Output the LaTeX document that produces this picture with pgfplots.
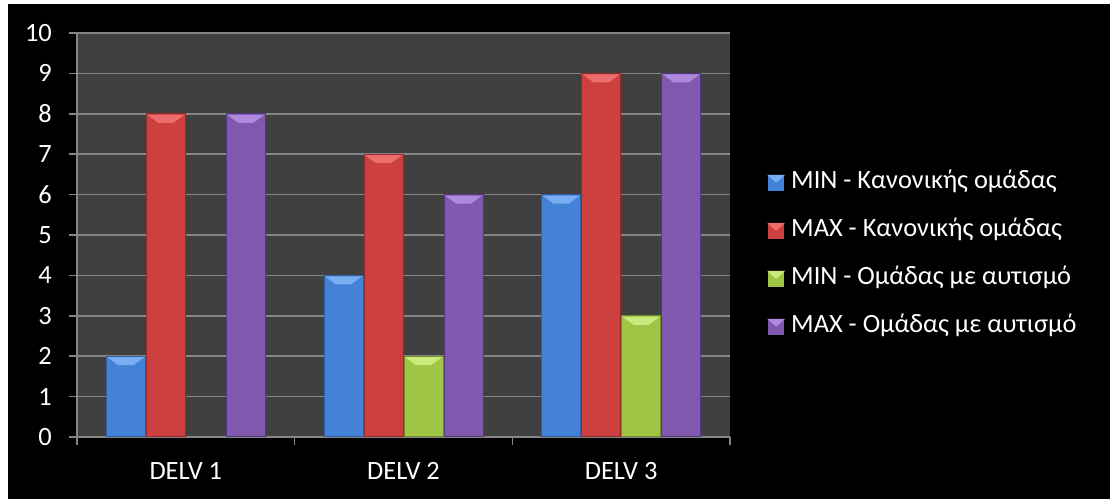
\documentclass[border=0pt]{standalone}
\usepackage{fontspec}
\setmainfont{Carlito}
\usepackage{pgfplots}
\pgfplotsset{compat=1.18}
\usetikzlibrary{shapes.geometric}

\definecolor{plotbg}{HTML}{404040}
\definecolor{gridgray}{HTML}{858585}
\definecolor{blueM}{HTML}{4382D6}\definecolor{blueD}{HTML}{2C5FA8}\definecolor{blueT}{HTML}{7AAEF2}
\definecolor{redM}{HTML}{CC4040}\definecolor{redD}{HTML}{962828}\definecolor{redT}{HTML}{EC6E6C}
\definecolor{greenM}{HTML}{9EC644}\definecolor{greenD}{HTML}{6F8F26}\definecolor{greenT}{HTML}{CBEA7E}
\definecolor{purpM}{HTML}{8058AE}\definecolor{purpD}{HTML}{553680}\definecolor{purpT}{HTML}{AE8ADE}

\newcommand\chartfont{\fontsize{26.5}{30}\selectfont}

\pgfplotsset{
  barstyle/.style n args={3}{
    fill=#1, draw=#2, line width=1bp,
    nodes near coords={\phantom{\rule{4bp}{3bp}}},
    every node near coord/.append style={anchor=north, shape=trapezium,
      shape border rotate=180, trapezium stretches=true,
      trapezium angle=48, minimum width=37bp, minimum height=8bp,
      inner sep=0.5bp, outer sep=0pt, fill=#3, draw=none, yshift=-1bp},
    area legend,
    legend image code/.code={\fill[#1] (0bp,-7.5bp) rectangle (15bp,7.5bp);
      \fill[#3] (0bp,7.5bp)--(15bp,7.5bp)--(7.5bp,1bp)--cycle;},
  },
}

\begin{document}
\begin{tikzpicture}
\fill[white] (0,0) rectangle (1110bp,499bp);
\fill[black] (8bp,0) rectangle (1110bp,495bp);
\begin{axis}[
  at={(77bp,62bp)}, anchor=south west,
  scale only axis, width=653bp, height=404bp,
  xmin=-0.5, xmax=2.5, ymin=0, ymax=10,
  ybar=1bp, bar width=39bp,
  axis background/.style={fill=plotbg},
  axis lines*=left,
  axis line style={draw=gridgray, line width=1.5bp, -},
  ytick={0,1,...,10},
  xtick={0,1,2}, xticklabels={DELV 1, DELV 2, DELV 3},
  minor xtick={-0.5,0.5,1.5,2.5},
  major x tick style={draw=none},
  minor x tick style={draw=gridgray, line width=1.5bp},
  y tick style={draw=gridgray, line width=1.5bp},
  tick align=outside, major tick length=8bp, minor tick length=8bp,
  ymajorgrids, major grid style={draw=gridgray, line width=1.5bp},
  /pgf/number format/assume math mode=true,
  tick label style={font=\chartfont, text=white},
  yticklabel style={inner sep=0pt, xshift=-17bp},
  xticklabel style={inner sep=0pt, yshift=-17bp},
  legend cell align=left,
  legend style={at={(axis description cs:1.0536,0.4505)}, anchor=west,
    draw=none, fill=none, text=white, font=\chartfont,
    row sep=25bp, nodes={inner sep=0pt, text height=17bp, text depth=6bp},
    /tikz/every odd column/.style={column sep=7bp}},
]
\addplot[barstyle={blueM}{blueD}{blueT}] coordinates {(0,2) (1,4) (2,6)};
\addplot[barstyle={redM}{redD}{redT}] coordinates {(0,8) (1,7) (2,9)};
\addplot[barstyle={greenM}{greenD}{greenT}] coordinates {(1,2) (2,3)};
\addplot[barstyle={purpM}{purpD}{purpT}] coordinates {(0,8) (1,6) (2,9)};
\legend{MIN - Κανονικής ομάδας, MAX - Κανονικής ομάδας, MIN - Ομάδας με αυτισμό, MAX - Ομάδας με αυτισμό}
\end{axis}
\end{tikzpicture}
\end{document}
